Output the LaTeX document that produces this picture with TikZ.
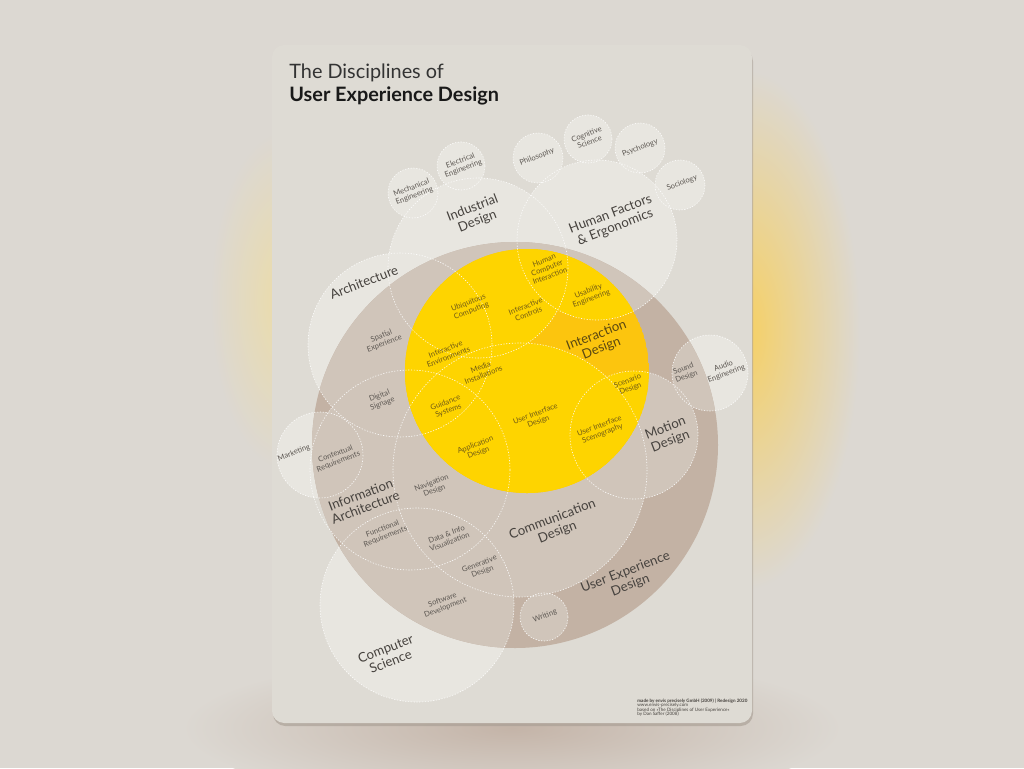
\documentclass[tikz,border=0pt]{standalone}
\usepackage{fontspec}
\setmainfont{Lato}
\usetikzlibrary{positioning}

\definecolor{bgc}{RGB}{220,216,210}
\definecolor{cardc}{RGB}{222,219,212}
\definecolor{shadowc}{RGB}{165,155,145}
\definecolor{glowy}{RGB}{246,208,100}
\definecolor{glowl}{RGB}{236,220,168}
\definecolor{glowb}{RGB}{196,180,168}
\definecolor{lightc}{RGB}{232,230,224}
\definecolor{uxdc}{RGB}{195,178,164}
\definecolor{subc}{RGB}{208,197,186}
\definecolor{ixdc}{RGB}{254,212,0}
\definecolor{ixdo}{RGB}{252,197,14}
\definecolor{txtc}{RGB}{70,66,62}
\definecolor{txtsc}{RGB}{92,87,82}
\definecolor{txtyc}{RGB}{112,90,22}

\pgfdeclareradialshading{yglow}{\pgfpoint{0bp}{0bp}}{color(0bp)=(glowy); color(25bp)=(bgc); color(50bp)=(bgc)}
\pgfdeclareradialshading{lglow}{\pgfpoint{0bp}{0bp}}{color(0bp)=(glowl); color(25bp)=(bgc); color(50bp)=(bgc)}
\pgfdeclareradialshading{bglow}{\pgfpoint{0bp}{0bp}}{color(0bp)=(glowb); color(25bp)=(bgc); color(50bp)=(bgc)}

\tikzset{
  lblbig/.style={align=center, rotate=21, inner sep=0pt, text=txtc,
    font=\fontsize{7.5}{7.9}\selectfont},
  lblsmall/.style={align=center, rotate=21, inner sep=0pt, text=txtsc,
    font=\fontsize{4.3}{4.7}\selectfont},
  lblyel/.style={lblsmall, text=txtyc},
  dotline/.style={white, line width=0.35pt, dash pattern=on 0.7pt off 0.9pt, opacity=0.9},
  credit/.style={inner sep=0pt, text=txtc, font=\fontsize{2.6}{3}\selectfont},
}

\begin{document}
\begin{tikzpicture}[x=0.02cm, y=-0.02cm]

  \useasboundingbox (0,0) rectangle (1024,768);
  \fill[bgc] (0,0) rectangle (1024,768);
  \shade[shading=yglow] (745,330) ellipse [x radius=115, y radius=260];
  \shade[shading=lglow] (285,300) ellipse [x radius=75, y radius=170];
  \shade[shading=bglow] (512,728) ellipse [x radius=330, y radius=75];

  % card
  \fill[shadowc, opacity=.6, rounded corners=7pt] (273,49) rectangle (753,726);
  \fill[cardc, rounded corners=7pt] (272,45) rectangle (752,723);

  % circle centres
  \coordinate (uxd) at (515,445);
  \coordinate (ixd) at (527,371);
  \coordinate (ind) at (478,268);
  \coordinate (hfe) at (597,240);
  \coordinate (arch) at (400,345);
  \coordinate (ia) at (410,470);
  \coordinate (comm) at (520,470);
  \coordinate (mot) at (634,435);
  \coordinate (cs) at (417,605);
  \coordinate (mkt) at (320,455);
  \coordinate (aud) at (710,373);
  \coordinate (wri) at (544,617);
  \coordinate (mech) at (413,193);
  \coordinate (elec) at (461,166);
  \coordinate (phil) at (538,158);
  \coordinate (cogn) at (588,139);
  \coordinate (psy) at (640,148);
  \coordinate (soc) at (680,185);

  % light circles
  \foreach \c/\r in {ind/90, hfe/80, arch/92, cs/97, mkt/43, aud/38,
                     mech/25, elec/24, phil/25, cogn/24, psy/25, soc/25}
    \fill[lightc] (\c) circle (\r);

  % user experience design
  \fill[uxdc] (uxd) circle (203);
  \begin{scope}
    \clip (uxd) circle (203);
    \foreach \c/\r in {ind/90, hfe/80, arch/92, ia/100, comm/127, mot/64,
                       cs/97, mkt/43, aud/38, wri/24}
      \fill[subc] (\c) circle (\r);
  \end{scope}

  % interaction design
  \begin{scope}
    \clip (ixd) circle (122);
    \fill[ixdo] (ixd) circle (122);
    \foreach \c/\r in {ind/90, hfe/80, arch/92, ia/100, comm/127, mot/64}
      \fill[ixdc] (\c) circle (\r);
  \end{scope}

  % outlines
  \foreach \c/\r in {ind/90, hfe/80, arch/92, ia/100, comm/127, mot/64,
                     cs/97, mkt/43, aud/38, wri/24, mech/25, elec/24,
                     phil/25, cogn/24, psy/25, soc/25}
    \draw[dotline] (\c) circle (\r);

  % title
  \node[anchor=base west, inner sep=0pt, text=black!80, font=\fontsize{11.3}{13}\selectfont]
    (title1) at (289,78) {The Disciplines of};
  \node[below=0.46cm of title1.base west, anchor=base west, inner sep=0pt, text=black!90,
    font=\fontsize{11.3}{13}\selectfont\bfseries] (title2) {User Experience Design};

  % outer disciplines
  \node[lblsmall] (lmech) at (413,192) {Mechanical\\Engineering};
  \node[lblsmall] (lelec) at (462,165) {Electrical\\Engineering};
  \node[lblsmall] (lphil) at (537,157) {Philosophy};
  \node[lblsmall] (lcogn) at (588,138) {Cognitive\\Science};
  \node[lblsmall] (lpsy) at (640,148) {Psychology};
  \node[lblsmall] (lsoc) at (682,183) {Sociology};
  \node[lblsmall] (lmkt) at (294,453) {Marketing};
  \node[lblsmall] (laud) at (725,370) {Audio\\Engineering};

  % main disciplines
  \node[lblbig] (lind) at (475,215) {Industrial\\Design};
  \node[lblbig] (lhfe) at (613,221) {Human Factors\\\& Ergonomics};
  \node[lblbig] (larch) at (364,282) {Architecture};
  \node[lblbig, text=txtyc!80!black] (lixd) at (599,342) {Interaction\\Design};
  \node[lblbig] (lmot) at (668,435) {Motion\\Design};
  \node[lblbig] (lia) at (363,501) {Information\\Architecture};
  \node[lblbig] (lcomm) at (555,526) {Communication\\Design};
  \node[lblbig] (luxd) at (628,579) {User Experience\\Design};
  \node[lblbig] (lcs) at (388,655) {Computer\\Science};

  % overlaps
  \node[lblyel] (lhci) at (547,268) {Human\\Computer\\Interaction};
  \node[lblyel] (luse) at (590,295) {Usability\\Engineering};
  \node[lblyel] (lubi) at (470,307) {Ubiquitous\\Computing};
  \node[lblyel] (lctl) at (527,310) {Interactive\\Controls};
  \node[lblsmall] (lspa) at (383,340) {Spatial\\Experience};
  \node[lblyel] (lenv) at (447,353) {Interactive\\Environments};
  \node[lblyel] (lmed) at (482,371) {Media\\Installations};
  \node[lblsmall] (lsig) at (381,400) {Digital\\Signage};
  \node[lblyel] (lgui) at (447,407) {Guidance\\Systems};
  \node[lblyel] (luid) at (537,418) {User Interface\\Design};
  \node[lblyel] (lscn) at (629,385) {Scenario\\Design};
  \node[lblyel] (lusc) at (601,430) {User Interface\\Scenography};
  \node[lblyel] (lapp) at (477,449) {Application\\Design};
  \node[lblsmall] (lctx) at (337,458) {Contextual\\Requirements};
  \node[lblsmall] (lnav) at (433,487) {Navigation\\Design};
  \node[lblsmall] (lfun) at (384,533) {Functional\\Requirements};
  \node[lblsmall] (ldat) at (448,538) {Data \& Info\\Visualization};
  \node[lblsmall] (lgen) at (481,568) {Generative\\Design};
  \node[lblsmall] (lsw) at (444,604) {Software\\Development};
  \node[lblsmall] (lwri) at (545,616) {Writing};
  \node[lblsmall] (lsnd) at (685,373) {Sound\\Design};

  % credits
  \node[credit, anchor=base west] (cr1) at (637,702)
    {\bfseries made by envis precisely GmbH (2009) | Redesign 2020};
  \node[credit, below=0.09cm of cr1.base west, anchor=base west] (cr2) {www.envis-precisely.com};
  \node[credit, below=0.09cm of cr2.base west, anchor=base west] (cr3)
    {based on »The Disciplines of User Experience«};
  \node[credit, below=0.09cm of cr3.base west, anchor=base west] (cr4) {by Dan Saffer (2008)};

\end{tikzpicture}
\end{document}
